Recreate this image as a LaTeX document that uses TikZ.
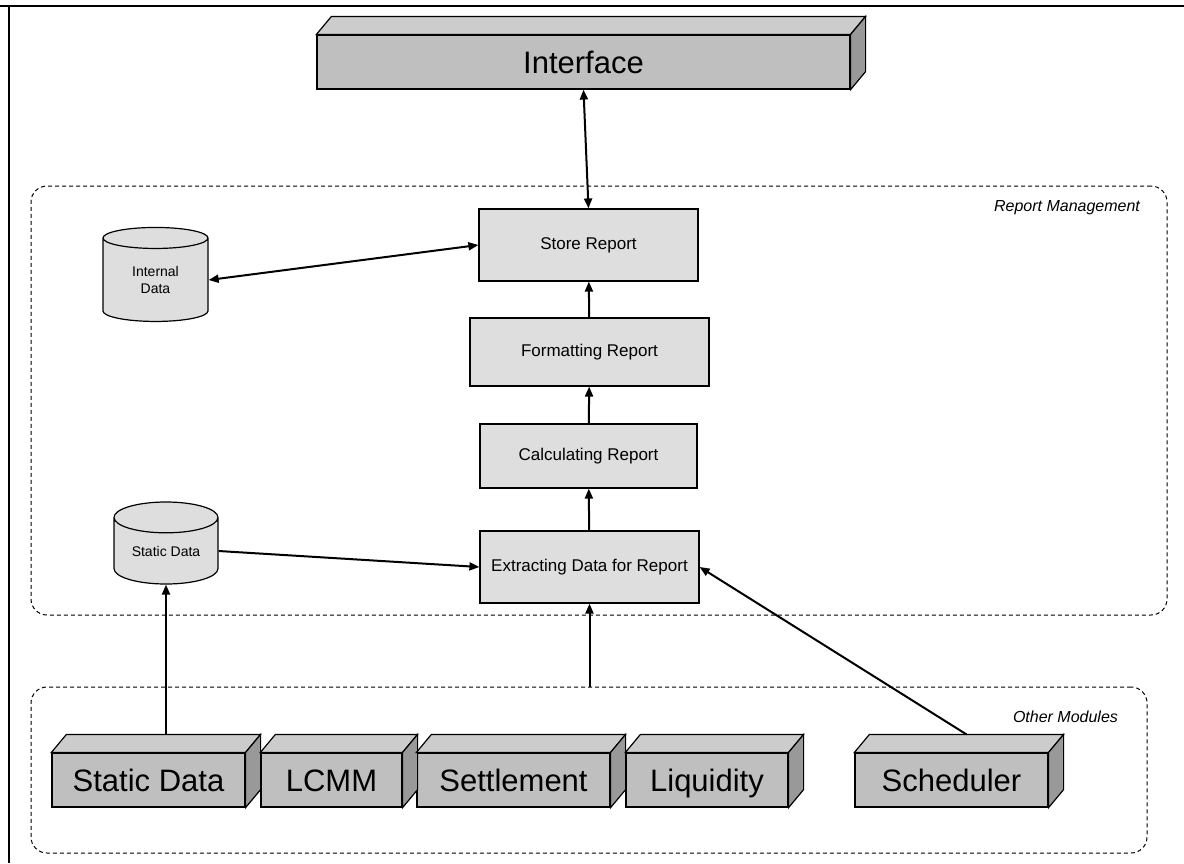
\documentclass[tikz,border=0pt]{standalone}
\usepackage{fontspec}
\setmainfont{Liberation Sans}
\definecolor{boxgray}{gray}{0.87}
\definecolor{slabfront}{gray}{0.75}
\definecolor{slabtop}{gray}{0.80}
\definecolor{slabside}{gray}{0.60}
\usetikzlibrary{arrows.meta,positioning,calc,shapes.geometric}
\tikzset{
  procbox/.style={draw,line width=0.6pt,fill=boxgray,inner sep=0pt,
                  font=\fontsize{8.5}{10}\selectfont},
  slab/.style={draw,line width=0.6pt,fill=slabfront,inner sep=0pt,
               minimum height=27pt,text height=12pt,text depth=0.8pt,
               font=\fontsize{15.5}{18}\selectfont},
  datastore/.style={draw,line width=0.6pt,fill=boxgray,cylinder,
                    shape border rotate=90,aspect=0.45,inner sep=0pt,
                    align=center,font=\fontsize{7}{8.5}\selectfont},
  group/.style={draw,line width=0.5pt,dash pattern=on 2pt off 1.5pt,
                rounded corners=8pt,inner sep=0pt},
  grouplabel/.style={anchor=east,font=\fontsize{8}{10}\selectfont\itshape},
  link/.style={line width=1pt,-{Triangle[length=5pt,width=4pt]}},
  duplink/.style={line width=1pt,
                  {Triangle[length=5pt,width=4pt]}-{Triangle[length=5pt,width=4pt]}},
}
\newcommand{\slabfaces}[1]{%
  \filldraw[line width=0.6pt,fill=slabtop] (#1.north west) -- ++(15,-18)
    -- ($(#1.north east)+(15,-18)$) -- (#1.north east) -- cycle;
  \filldraw[line width=0.6pt,fill=slabside] (#1.north east) -- ++(15,-18)
    -- ($(#1.south east)+(15,-18)$) -- (#1.south east) -- cycle;}

\begin{document}
\begin{tikzpicture}[x=0.5pt,y=-0.5pt]
  \useasboundingbox (0,0) rectangle (1184,863);
  \draw[line width=1pt] (0,6) -- (1184,6);
  \draw[line width=1pt] (9,6) -- (9,863);

  \node[group,minimum width=568pt,minimum height=214.5pt] (mgmt) at (599,400.5) {};
  \node[grouplabel] at (1147,208) {Report Management};
  \node[group,minimum width=558pt,minimum height=83pt] (other) at (589,770) {};
  \node[grouplabel] at (1125,717) {Other Modules};

  \node[slab,minimum width=266.5pt] (iface) at (583.5,62) {Interface};
  \slabfaces{iface}

  \node[procbox,minimum width=109.5pt,minimum height=36pt] (store) at (588.5,245) {Store Report};
  \node[procbox,minimum width=119.5pt,minimum height=34pt] (format) at (589.5,352) {Formatting Report};
  \node[procbox,minimum width=108.5pt,minimum height=32pt] (calc) at (588.5,456) {Calculating Report};
  \node[procbox,minimum width=109.5pt,minimum height=36pt] (extract) at (589.5,567) {Extracting Data for Report};

  \node[datastore,minimum width=52.5pt,minimum height=47pt] (idata) at (155.5,280) {Internal\\Data};
  \node[datastore,minimum width=52pt,minimum height=41pt] (sdata) at (166,551) {Static Data};

  \node[slab,minimum width=96.5pt] (sdmod) at (148.5,780) {Static Data};
  \node[slab,minimum width=70.5pt] (lcmm) at (331.5,780) {LCMM};
  \node[slab,minimum width=96.5pt] (settle) at (513.5,780) {Settlement};
  \node[slab,minimum width=81pt] (liquid) at (707,780) {Liquidity};
  \node[slab,minimum width=96.5pt] (sched) at (951.5,780) {Scheduler};
  \foreach \m in {sdmod,lcmm,settle,liquid,sched} {\slabfaces{\m}}

  \coordinate (sdtop) at ($(sdmod.north)+(0,-18)$);
  \coordinate (schedtop) at ($(sched.north)+(15,-18)$);

  \draw[duplink] (iface.south) -- (store.north);
  \draw[duplink] (idata.east) -- (store.west);
  \draw[link] (format) -- (store);
  \draw[link] (calc) -- (format);
  \draw[link] (extract) -- (calc);
  \draw[link] (sdata.east) -- (extract.west);
  \draw[link] (extract.south |- other.north) -- (extract.south);
  \draw[link] (sdata.south |- sdtop) -- (sdata.south);
  \draw[link] (schedtop) -- (extract.east);
\end{tikzpicture}
\end{document}
